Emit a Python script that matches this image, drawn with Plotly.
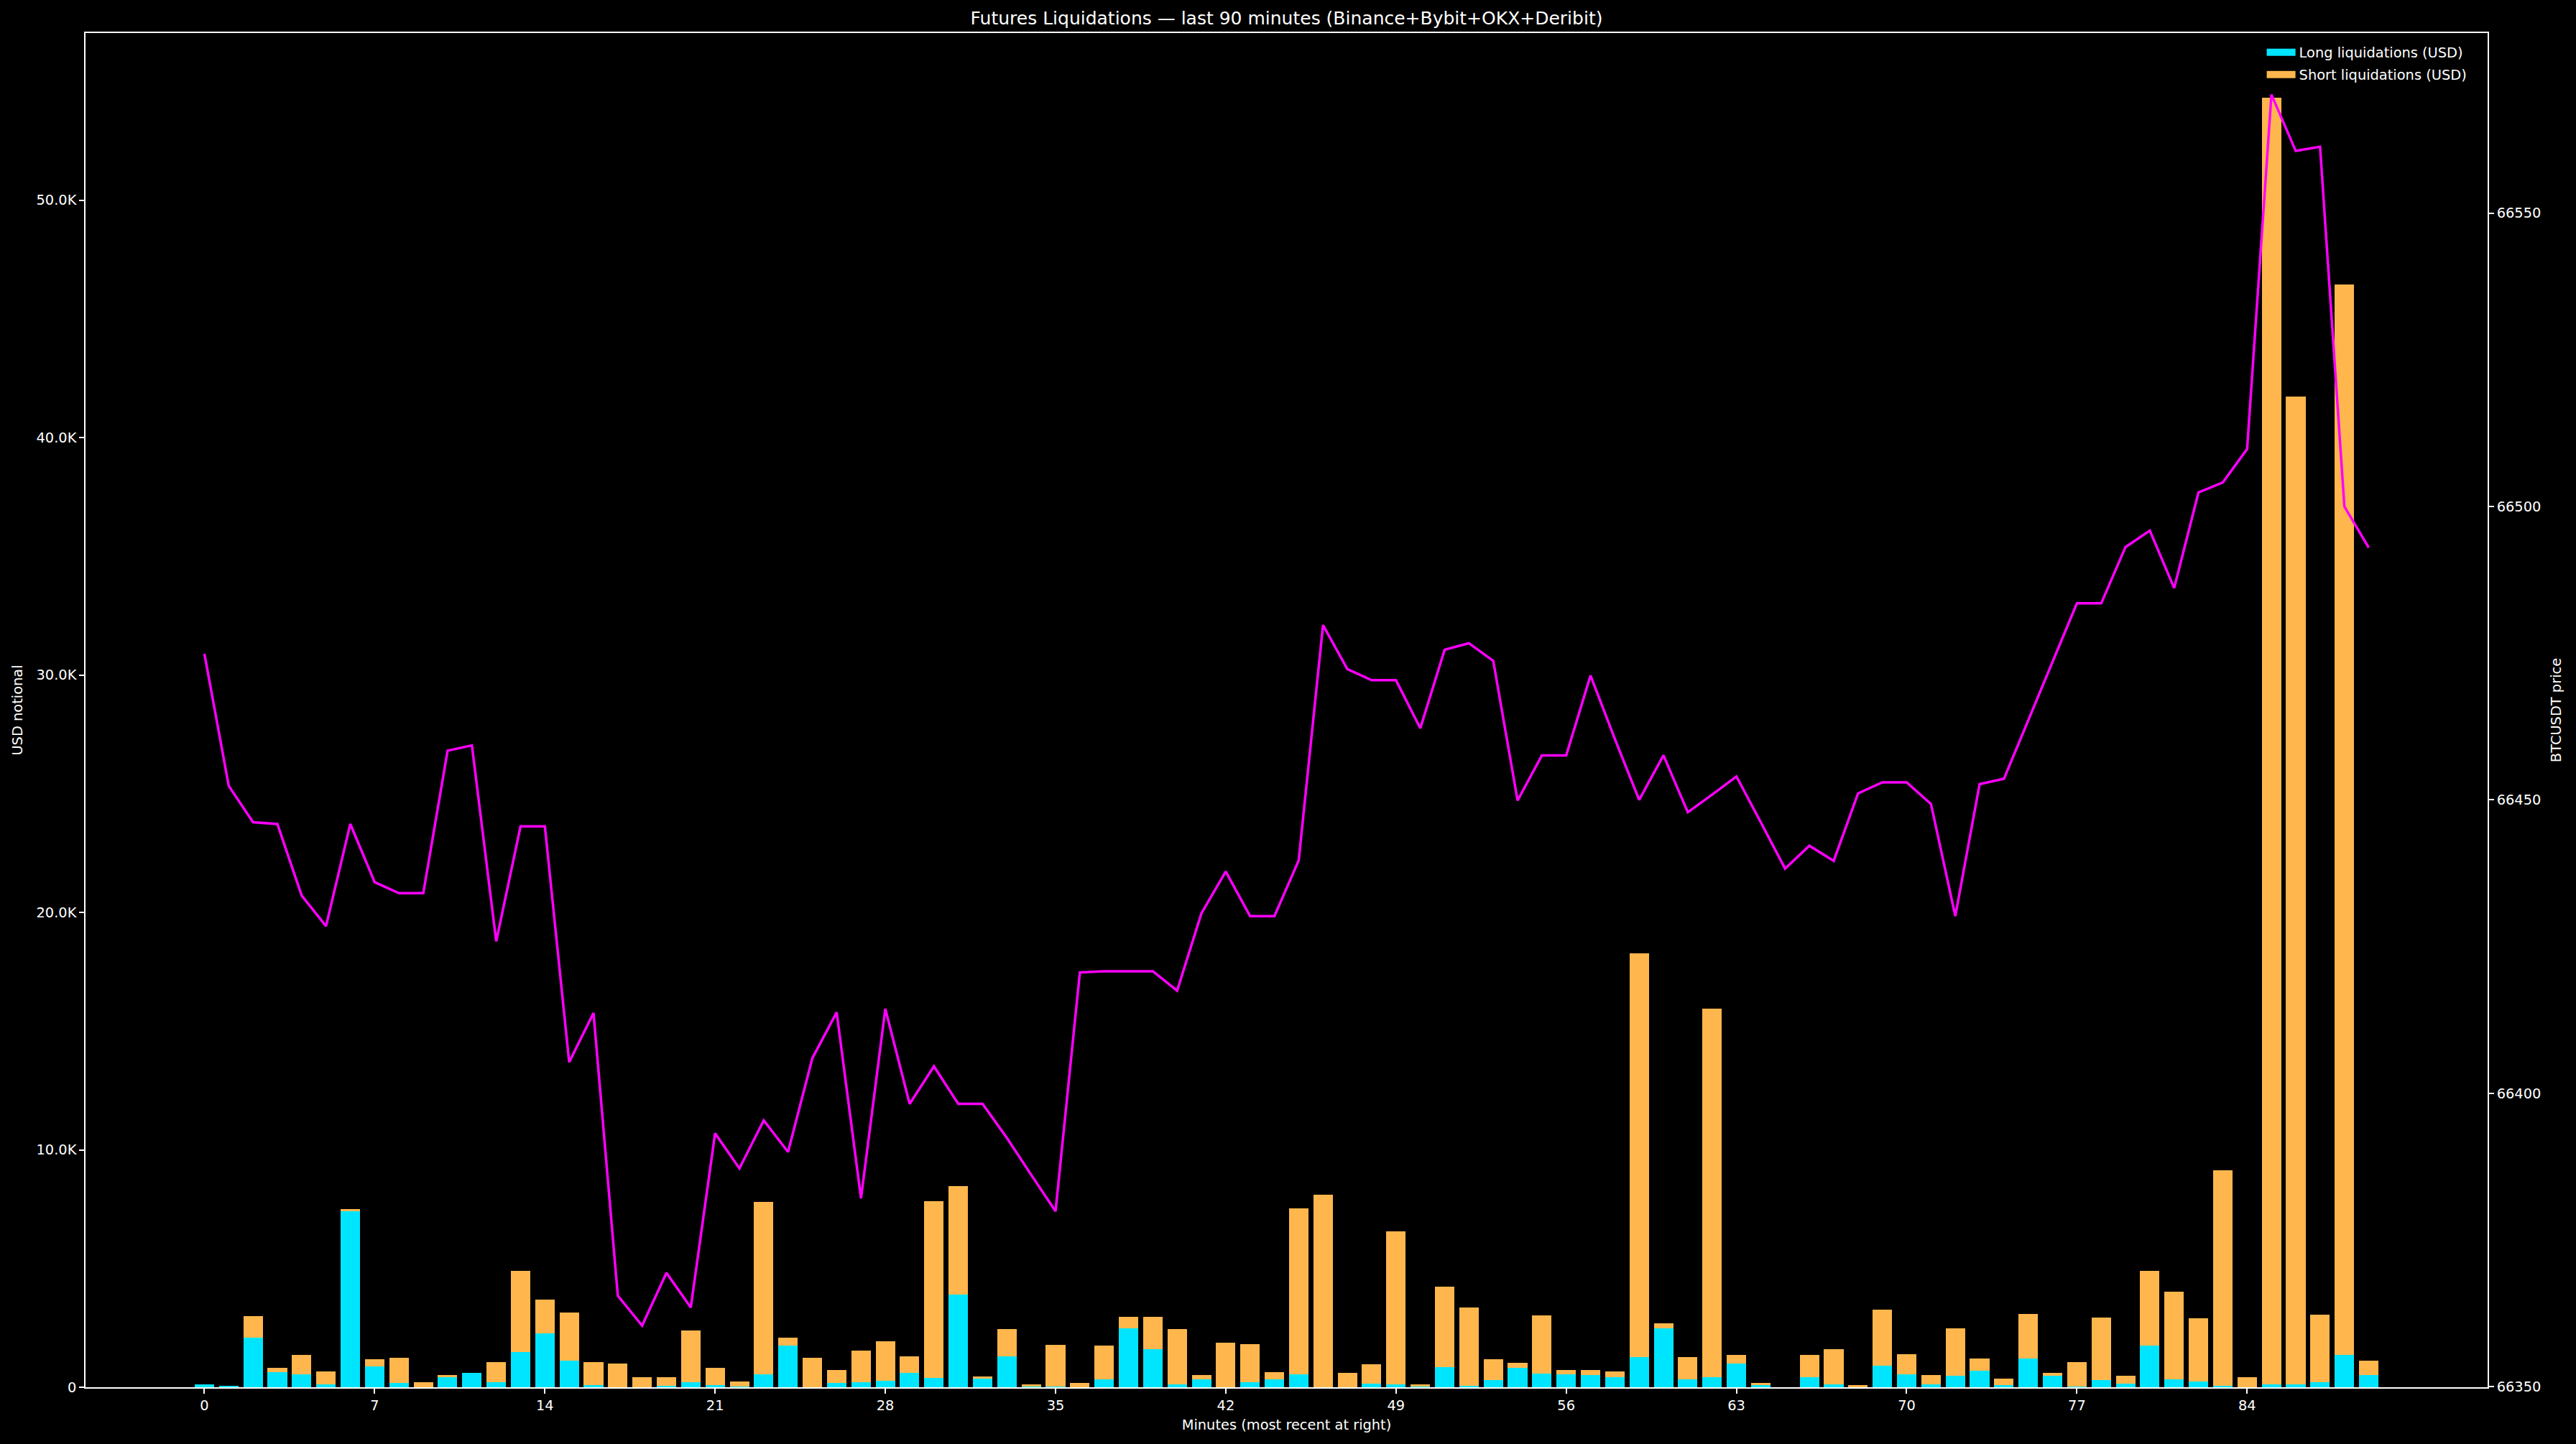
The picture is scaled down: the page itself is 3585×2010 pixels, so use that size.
import plotly.graph_objects as go

minutes = list(range(90))

long_usd = [120, 40, 2090, 640, 550, 120, 7440, 880, 180, 0,
            450, 610, 210, 1480, 2270, 1120, 90, 0, 0, 60,
            210, 90, 40, 550, 1760, 0, 180, 210, 270, 610,
            390, 3910, 390, 1300, 30, 40, 0, 330, 2480, 1610,
            120, 330, 0, 210, 330, 550, 0, 0, 150, 120,
            60, 850, 60, 300, 820, 580, 550, 510, 420, 1270,
            2490, 330, 420, 1000, 80, 0, 420, 120, 0, 910,
            550, 120, 480, 700, 90, 1210, 480, 30, 300, 150,
            1760, 330, 240, 60, 0, 120, 120, 210, 1360, 520]

short_usd = [0, 0, 910, 180, 810, 550, 60, 300, 1060, 210,
             60, 0, 850, 3430, 1420, 2030, 970, 1000, 420, 360,
             2180, 730, 200, 7270, 330, 1240, 550, 1340, 1670, 690,
             7450, 4550, 60, 1150, 90, 1750, 180, 1430, 490, 1360,
             2330, 180, 1880, 1610, 310, 6990, 8120, 610, 820, 6450,
             60, 3390, 3300, 880, 210, 2450, 180, 220, 250, 17000,
             190, 930, 15530, 360, 110, 0, 940, 1490, 90, 2360,
             840, 390, 2000, 510, 270, 1880, 130, 1030, 2640, 330,
             3150, 3700, 2670, 9090, 420, 54200, 41600, 2850, 45100, 600]

price = [66474.9, 66452.4, 66446.2, 66445.9, 66433.7, 66428.5, 66445.9, 66436.0, 66434.1, 66434.1,
         66458.4, 66459.3, 66425.9, 66445.5, 66445.5, 66405.3, 66413.7, 66365.5, 66360.4, 66369.4,
         66363.5, 66393.2, 66387.2, 66395.4, 66390.0, 66406.0, 66413.8, 66382.1, 66414.4, 66398.2,
         66404.6, 66398.2, 66398.2, 66392.4, 66386.1, 66379.9, 66420.6, 66420.8, 66420.8, 66420.8,
         66417.5, 66430.7, 66437.8, 66430.2, 66430.2, 66439.7, 66479.8, 66472.3, 66470.4, 66470.4,
         66462.2, 66475.6, 66476.7, 66473.7, 66449.9, 66457.6, 66457.6, 66471.2, 66460.4, 66450.0,
         66457.6, 66447.9, 66450.9, 66454.0, 66446.2, 66438.3, 66442.2, 66439.6, 66451.1, 66453.0,
         66453.0, 66449.3, 66430.2, 66452.7, 66453.6, 66463.6, 66473.5, 66483.5, 66483.5, 66493.1,
         66495.9, 66486.1, 66502.4, 66504.1, 66509.8, 66570.2, 66560.6, 66561.3, 66500.0, 66493.0]

x_tick_vals = [0, 7, 14, 21, 28, 35, 42, 49, 56, 63, 70, 77, 84]
y_tick_vals = [0, 10000, 20000, 30000, 40000, 50000]
y_tick_text = ["0", "10.0K", "20.0K", "30.0K", "40.0K", "50.0K"]
y2_tick_vals = [66350, 66400, 66450, 66500, 66550]
y2_tick_text = ["66350", "66400", "66450", "66500", "66550"]

FONT = "DejaVu Sans"
CYAN = "#00E5FF"
ORANGE = "#FFB74D"
MAGENTA = "#FF00FF"

totals = [a + b for a, b in zip(long_usd, short_usd)]
ymax = max(totals) * 1.05
pmin, pmax = min(price), max(price)
prng = pmax - pmin
y2range = [pmin - 0.05 * prng, pmax + 0.05 * prng]
xrange_ = [-0.4 - 0.05 * 89.8, 89.4 + 0.05 * 89.8]

fig = go.Figure()
fig.add_trace(go.Bar(x=minutes, y=long_usd, name="Long liquidations (USD)", showlegend=False,
                     marker=dict(color=CYAN, line=dict(width=0)), width=0.8))
fig.add_trace(go.Bar(x=minutes, y=short_usd, name="Short liquidations (USD)", showlegend=False,
                     marker=dict(color=ORANGE, line=dict(width=0)), width=0.8))
fig.add_trace(go.Scatter(x=minutes, y=price, mode="lines", yaxis="y2",
                         line=dict(color=MAGENTA, width=3.5), showlegend=False))
# legend proxies (wide patches like the reference)
fig.add_trace(go.Scatter(x=[None], y=[None], mode="lines", name="Long liquidations (USD)",
                         line=dict(color=CYAN, width=14), legendgroup="a"))
fig.add_trace(go.Scatter(x=[None], y=[None], mode="lines", name="Short liquidations (USD)",
                         line=dict(color=ORANGE, width=14), legendgroup="b"))

axis_common = dict(showgrid=False, zeroline=False, showline=True, linecolor="white",
                   linewidth=1.5, ticks="outside", ticklen=7, tickwidth=1.5,
                   tickcolor="white", tickfont=dict(family=FONT, size=19.4, color="white"),
                   automargin=False)

fig.update_layout(
    width=3585, height=2010,
    paper_bgcolor="black", plot_bgcolor="black",
    barmode="stack", bargap=0,
    margin=dict(l=119, r=123, t=46, b=79, pad=0),
    font=dict(family=FONT, color="white", size=19.4),
    title=dict(text="Futures Liquidations — last 90 minutes (Binance+Bybit+OKX+Deribit)",
               x=0.5, xref="paper", xanchor="center",
               y=1 - 25 / 2010, yref="container", yanchor="middle",
               font=dict(family=FONT, size=25, color="white")),
    xaxis=dict(range=xrange_, tickmode="array", tickvals=x_tick_vals, mirror=True,
               title=dict(text="Minutes (most recent at right)", standoff=9,
                          font=dict(family=FONT, size=19.4, color="white")),
               **axis_common),
    yaxis=dict(range=[0, ymax], tickmode="array", tickvals=y_tick_vals, ticktext=y_tick_text,
               title=dict(text="USD notional", standoff=14,
                          font=dict(family=FONT, size=19.4, color="white")),
               **axis_common),
    yaxis2=dict(range=y2range, overlaying="y", side="right", tickmode="array",
                tickvals=y2_tick_vals, ticktext=y2_tick_text,
                title=dict(text="BTCUSDT price", standoff=15,
                           font=dict(family=FONT, size=19.4, color="white")),
                **axis_common),
    legend=dict(x=0.993, xanchor="right", y=0.996, yanchor="top",
                bgcolor="rgba(0,0,0,0)", font=dict(family=FONT, size=19.4, color="white"),
                traceorder="grouped", tracegroupgap=3, itemwidth=40),
    showlegend=True,
)

fig.write_html("out.html",
               config={"displayModeBar": False},
               post_script="document.body.style.margin='0';document.body.style.padding='0';"
                           "document.body.style.background='black';"
                           "document.documentElement.style.background='black';")
